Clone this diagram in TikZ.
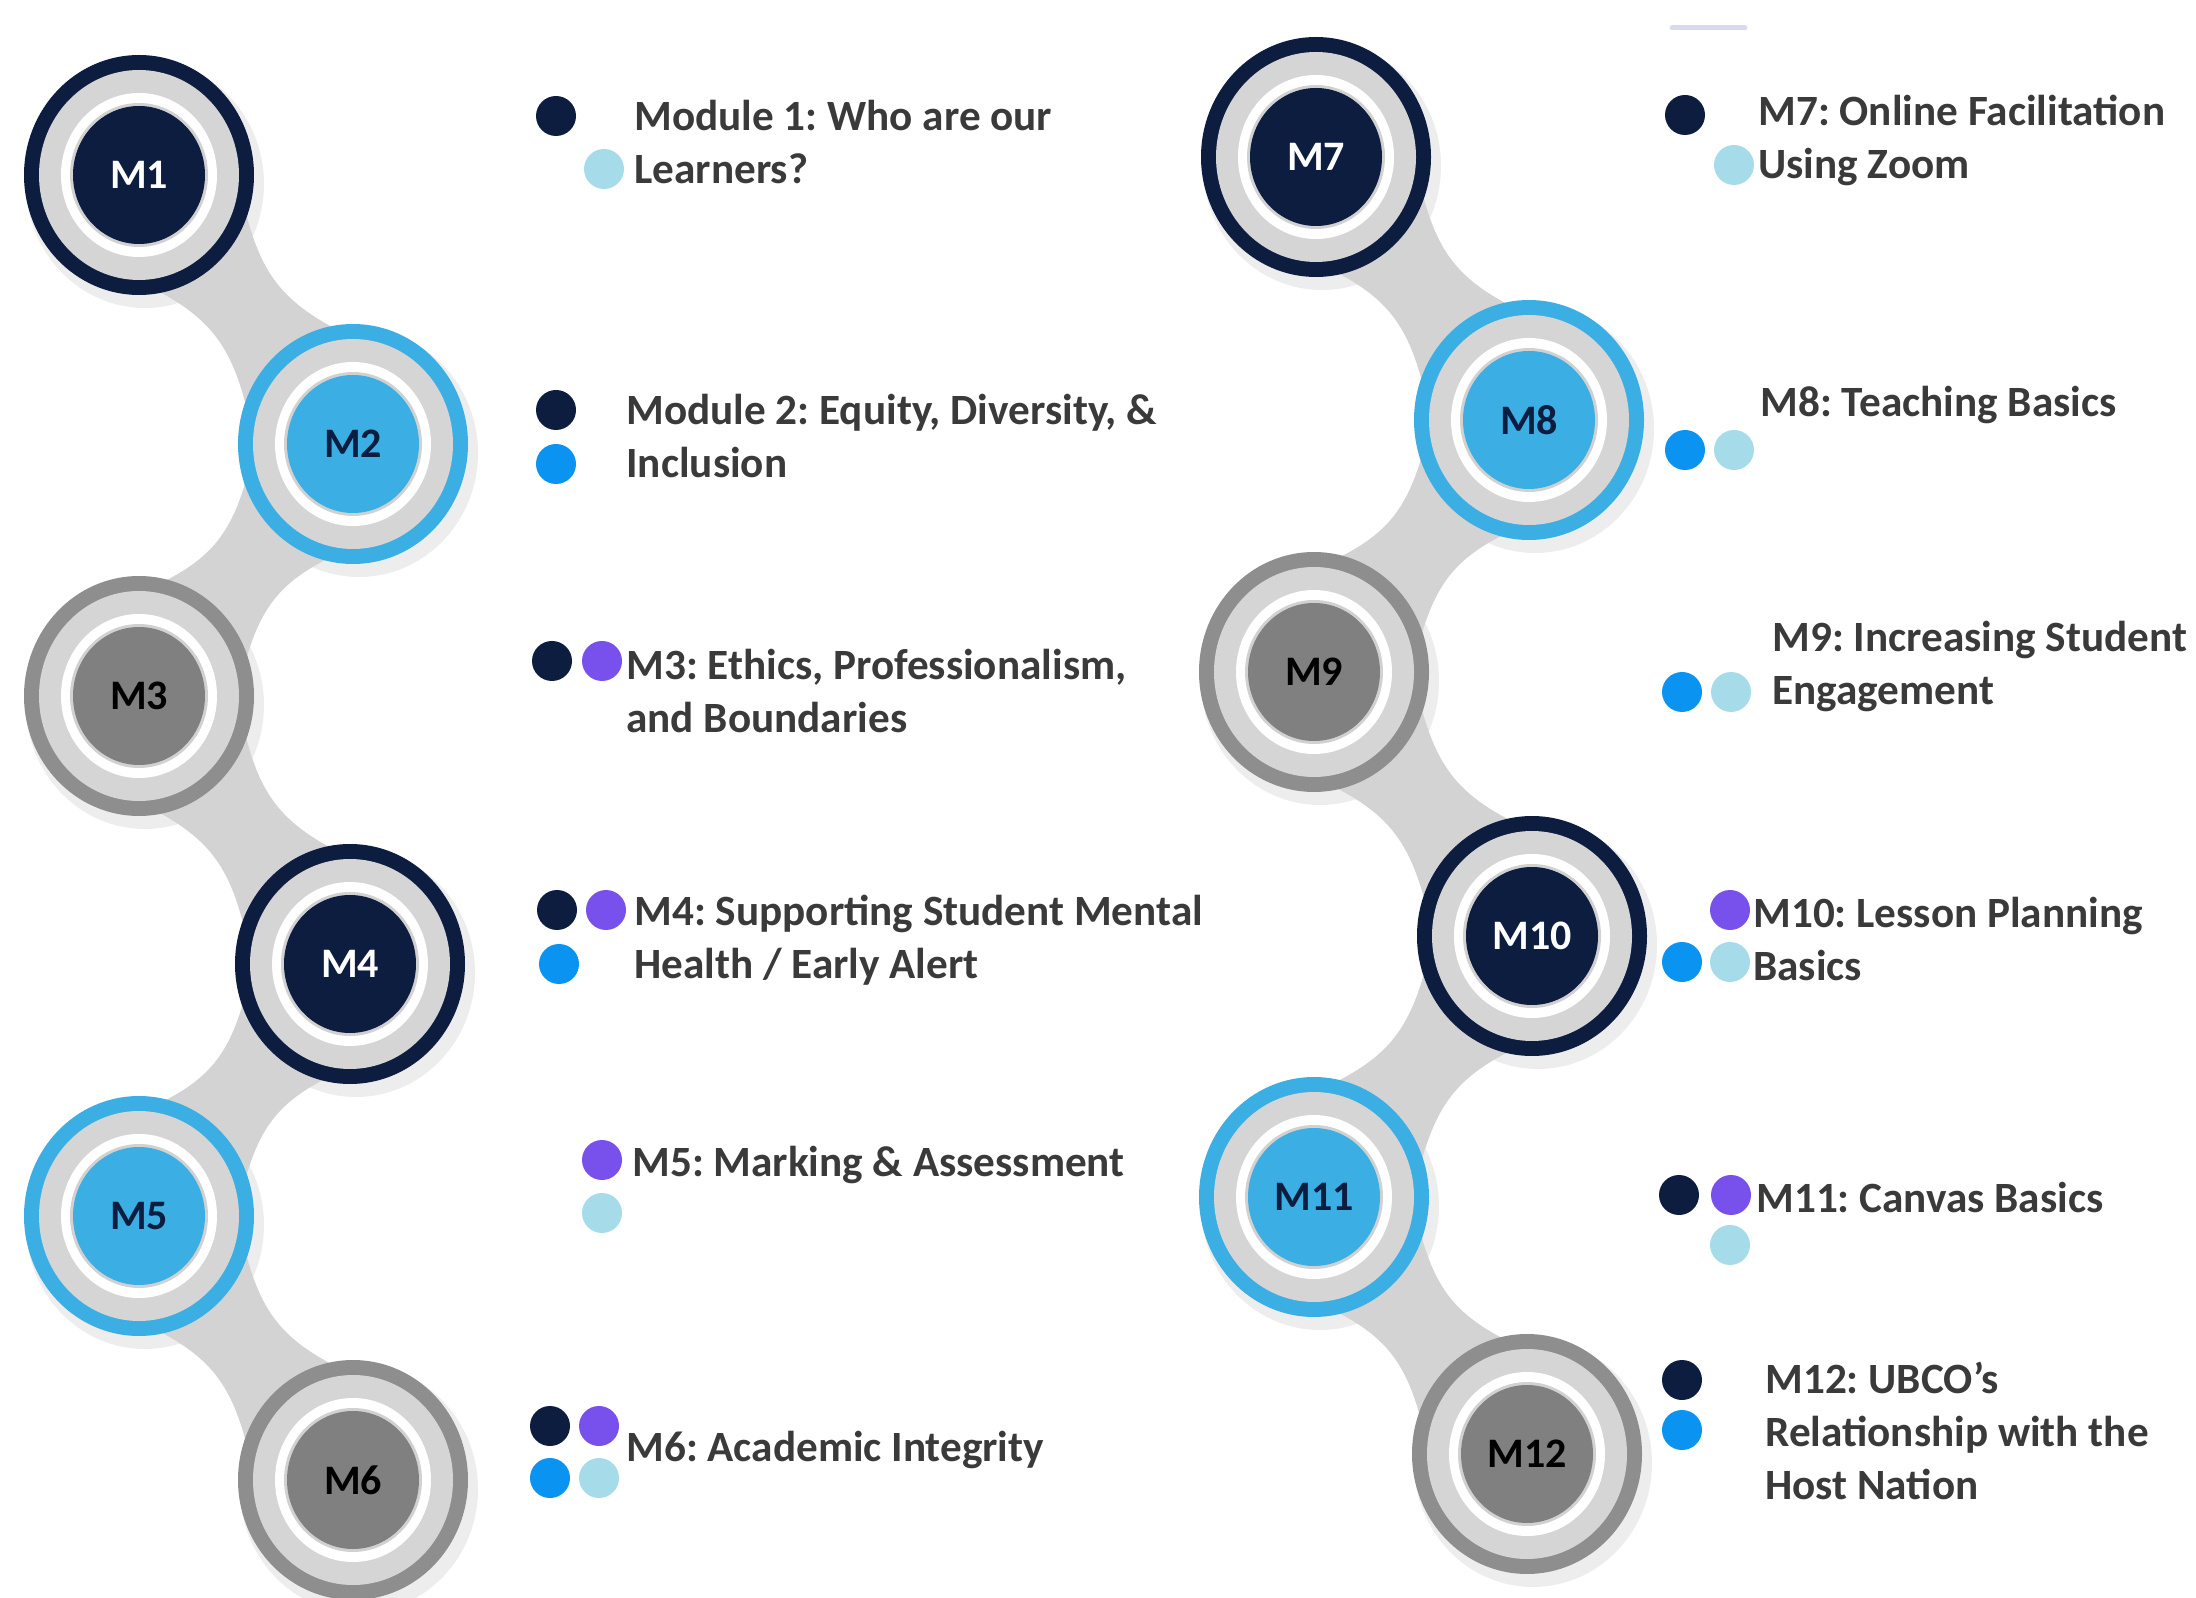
\documentclass[tikz,border=0pt]{standalone}
\usepackage{fontspec}
\setmainfont{Carlito}
\frenchspacing
\usetikzlibrary{calc,backgrounds,shapes.geometric}
\definecolor{navy}{HTML}{0C1D40}
\definecolor{ltblue}{HTML}{3BAFE3}
\definecolor{gdisk}{HTML}{808080}
\definecolor{gring}{HTML}{8E8E8E}
\definecolor{bandgrey}{HTML}{D3D3D3}
\definecolor{ringgrey}{HTML}{D5D5D5}
\definecolor{dblue}{HTML}{0A93F0}
\definecolor{dpurple}{HTML}{7850EC}
\definecolor{dpale}{HTML}{A6DCE9}
\definecolor{txtgrey}{HTML}{3A3A3A}
\definecolor{faintmark}{HTML}{D8DAF0}
\tikzset{
  band/.style={fill=bandgrey},
  txt/.style={anchor=west, inner sep=0pt, align=left, text=txtgrey,
    font=\bfseries\fontsize{21.6}{26.5}\selectfont},
  lbl/.style={ellipse, inner sep=0pt, minimum width=66pt, minimum height=69pt,
    font=\bfseries\fontsize{21}{24}\selectfont},
  dot/.style={fill=#1},
}
% #1 name, #2 x, #3 y, #4 ring colour, #5 disk colour, #6 text colour, #7 label
\newcommand\ModCirc[7]{%
  \fill[#4] (#2,#3) ellipse [x radius=115, y radius=120];
  \fill[ringgrey] (#2,#3) ellipse [x radius=100, y radius=105];
  \fill[white] (#2,#3) ellipse [x radius=78, y radius=82];
  \fill[black!18] (#2,#3) ellipse [x radius=69, y radius=72];
  \node[lbl, fill=#5, text=#6] (#1) at (#2,#3) {#7};
}
% connector band between two named nodes
\newcommand\Band[2]{%
  \fill[band] ($(#1)!0.28!(#2)!30pt!90:(#2)$)
     .. controls ($(#1)!0.45!(#2)!17pt!90:(#2)$) and ($(#1)!0.55!(#2)!17pt!90:(#2)$)
     .. ($(#1)!0.72!(#2)!30pt!90:(#2)$)
     -- ($(#1)!0.72!(#2)!30pt!-90:(#2)$)
     .. controls ($(#1)!0.55!(#2)!17pt!-90:(#2)$) and ($(#1)!0.45!(#2)!17pt!-90:(#2)$)
     .. ($(#1)!0.28!(#2)!30pt!-90:(#2)$) -- cycle;
}
\newcommand\Dot[3]{\fill[dot=#1] (#2,#3) circle [radius=20];}
\begin{document}
\begin{tikzpicture}[x=0.5pt,y=-0.5pt]
\useasboundingbox (0,0) rectangle (2196,1598);
% faint mark at top
\draw[line width=2.5pt, color=faintmark, line cap=round] (1672,28) -- (1745,28);

% module circles
\ModCirc{m1}{139}{175}{navy}{navy}{white}{M1}
\ModCirc{m2}{353}{444}{ltblue}{ltblue}{navy}{M2}
\ModCirc{m3}{139}{696}{gring}{gdisk}{black}{M3}
\ModCirc{m4}{350}{964}{navy}{navy}{white}{M4}
\ModCirc{m5}{139}{1216}{ltblue}{ltblue}{navy}{M5}
\ModCirc{m6}{353}{1480}{gring}{gdisk}{black}{M6}
\ModCirc{m7}{1316}{157}{navy}{navy}{white}{M7}
\ModCirc{m8}{1529}{420}{ltblue}{ltblue}{navy}{M8}
\ModCirc{m9}{1314}{672}{gring}{gdisk}{black}{M9}
\ModCirc{m10}{1532}{936}{navy}{navy}{white}{M10}
\ModCirc{m11}{1314}{1197}{ltblue}{ltblue}{navy}{M11}
\ModCirc{m12}{1527}{1454}{gring}{gdisk}{black}{M12}

\begin{scope}[on background layer]
  \foreach \n in {m1,m2,m3,m4,m5,m6,m7,m8,m9,m10,m11,m12}{
    \fill[black, opacity=0.07] ($(\n)+(6,9)$) ellipse [x radius=119, y radius=124];
  }
  \Band{m1}{m2}\Band{m2}{m3}\Band{m3}{m4}\Band{m4}{m5}\Band{m5}{m6}
  \Band{m7}{m8}\Band{m8}{m9}\Band{m9}{m10}\Band{m10}{m11}\Band{m11}{m12}
\end{scope}

% dots
\Dot{navy}{556}{116}\Dot{dpale}{604}{169}
\Dot{navy}{556}{410}\Dot{dblue}{556}{464}
\Dot{navy}{552}{661}\Dot{dpurple}{602}{661}
\Dot{navy}{557}{910}\Dot{dpurple}{606}{910}\Dot{dblue}{559}{964}
\Dot{dpurple}{602}{1160}\Dot{dpale}{602}{1213}
\Dot{navy}{550}{1426}\Dot{dpurple}{599}{1426}\Dot{dblue}{550}{1478}\Dot{dpale}{599}{1478}
\Dot{navy}{1685}{115}\Dot{dpale}{1734}{165}
\Dot{dblue}{1685}{450}\Dot{dpale}{1734}{450}
\Dot{dblue}{1682}{692}\Dot{dpale}{1731}{692}
\Dot{dpurple}{1730}{910}\Dot{dblue}{1682}{962}\Dot{dpale}{1730}{962}
\Dot{navy}{1679}{1195}\Dot{dpurple}{1731}{1195}\Dot{dpale}{1730}{1245}
\Dot{navy}{1682}{1380}\Dot{dblue}{1682}{1430}

% texts
\node[txt] (t1) at (634,142) {Module 1: Who are our\\Learners?};
\node[txt] (t2) at (626,436) {Module 2: Equity, Diversity, \&\\Inclusion};
\node[txt] (t3) at (626,691) {M3: Ethics, Professionalism,\\and Boundaries};
\node[txt] (t4) at (634,940) {M4: Supporting Student Mental\\Health / Early Alert};
\node[txt] (t5) at (632,1165) {M5: Marking \& Assessment};
\node[txt] (t6) at (626,1450) {M6: Academic Integrity};
\node[txt] (t7) at (1758,140) {M7: Online Facilitation\\Using Zoom};
\node[txt] (t8) at (1760,405) {M8: Teaching Basics};
\node[txt] (t9) at (1772,667) {M9: Increasing Student\\Engagement};
\node[txt] (t10) at (1753,939) {M10: Lesson Planning\\Basics};
\node[txt] (t11) at (1756,1197) {M11: Canvas Basics};
\node[txt] (t12) at (1765,1431) {M12: UBCO’s\\Relationship with the\\Host Nation};
\end{tikzpicture}
\end{document}
